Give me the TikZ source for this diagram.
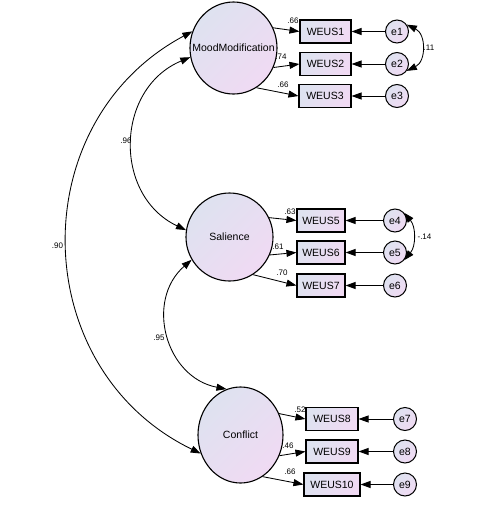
\documentclass[tikz,border=0pt]{standalone}
\usepackage{fontspec}
\setmainfont{Liberation Sans}
\usetikzlibrary{arrows.meta,shapes.geometric}
\definecolor{fillA}{RGB}{222,226,240}
\definecolor{fillB}{RGB}{240,218,243}
\tikzset{
  latent/.style={ellipse, draw, line width=1.1pt, inner sep=0pt,
    top color=fillA, bottom color=fillB, shading angle=45,
    label={[font=\fontsize{10.5}{12}\selectfont, inner sep=0pt]center:#1}},
  obs/.style={rectangle, draw, line width=1.1pt, inner sep=0pt,
    minimum height=23pt, top color=fillA, bottom color=fillB, shading angle=60,
    font=\fontsize{10.5}{12}\selectfont},
  err/.style={circle, draw, line width=1pt, inner sep=0pt, minimum size=23pt,
    top color=fillA, bottom color=fillB, shading angle=45,
    font=\fontsize{10.5}{12}\selectfont},
  onearrow/.style={line width=0.85pt, -{Triangle[length=10pt,width=7pt]}},
  twoarrow/.style={line width=0.85pt, {Triangle[length=10pt,width=7pt]}-{Triangle[length=10pt,width=7pt]}},
  lab/.style={font=\fontsize{8}{9.6}\selectfont, inner sep=0pt}
}
\begin{document}
\begin{tikzpicture}[x=1pt,y=-1pt]
\useasboundingbox (0,0) rectangle (495,507);
\fill[white] (0,0) rectangle (495,507);

% latent variables
\node[latent=MoodModification, minimum width=87pt, minimum height=92pt] (MM) at (233.5,48) {};
\node[latent=Salience, minimum width=87pt, minimum height=88pt] (SA) at (229.5,237) {};
\node[latent=Conflict, minimum width=85pt, minimum height=96pt] (CO) at (240.5,435) {};

% observed variables
\node[obs, minimum width=51pt] (W1) at (325.5,31.5) {WEUS1};
\node[obs, minimum width=51pt] (W2) at (325.5,64) {WEUS2};
\node[obs, minimum width=52pt] (W3) at (325,96) {WEUS3};
\node[obs, minimum width=48pt] (W5) at (321,220.5) {WEUS5};
\node[obs, minimum width=48pt] (W6) at (321,252.5) {WEUS6};
\node[obs, minimum width=48pt] (W7) at (321,285.5) {WEUS7};
\node[obs, minimum width=52pt] (W8) at (332,419) {WEUS8};
\node[obs, minimum width=52pt] (W9) at (332,451.5) {WEUS9};
\node[obs, minimum width=56pt] (W10) at (332,484.5) {WEUS10};

% errors
\node[err] (e1) at (397,31.5) {e1};
\node[err] (e2) at (397,64) {e2};
\node[err] (e3) at (397,96) {e3};
\node[err] (e4) at (395,220.5) {e4};
\node[err] (e5) at (395,252.5) {e5};
\node[err] (e6) at (395,285.5) {e6};
\node[err] (e7) at (405,419) {e7};
\node[err] (e8) at (405,451.5) {e8};
\node[err] (e9) at (405,484.5) {e9};

% loadings
\draw[onearrow] (MM.27) -- (W1.west);
\draw[onearrow] (MM.-26) -- (W2.west);
\draw[onearrow] (MM.-60) -- (W3.west);
\draw[onearrow] (SA.26) -- (W5.west);
\draw[onearrow] (SA.-24) -- (W6.west);
\draw[onearrow] (SA.-58) -- (W7.west);
\draw[onearrow] (CO.29) -- (W8.west);
\draw[onearrow] (CO.-28) -- (W9.west);
\draw[onearrow] (CO.-62) -- (W10.west);

% error paths
\draw[onearrow] (e1) -- (W1);
\draw[onearrow] (e2) -- (W2);
\draw[onearrow] (e3) -- (W3);
\draw[onearrow] (e4) -- (W5);
\draw[onearrow] (e5) -- (W6);
\draw[onearrow] (e6) -- (W7);
\draw[onearrow] (e7) -- (W8);
\draw[onearrow] (e8) -- (W9);
\draw[onearrow] (e9) -- (W10);

% correlations between latents
\draw[twoarrow] (MM.158) to[bend right=63, looseness=1.17] (CO.205);
\draw[twoarrow] (MM.192) to[bend right=66, looseness=1.2] (SA.171);
\draw[twoarrow] (SA.211) to[bend right=64, looseness=1.19] (CO.107);

% error covariances
\draw[twoarrow] (e1.35) to[bend left=64, looseness=1.2] (e2.-35);
\draw[twoarrow] (e4.40) to[bend left=40] (e5.-40);

% labels
\node[lab] (l1) at (293,21) {.66};
\node[lab] (l2) at (281,57) {.74};
\node[lab] (l3) at (283,85) {.66};
\node[lab] (l5) at (290,212) {.63};
\node[lab] (l6) at (278,247) {.61};
\node[lab] (l7) at (282,273) {.70};
\node[lab] (l8) at (300,410) {.52};
\node[lab] (l9) at (288,446) {.46};
\node[lab] (l10) at (290,472) {.66};
\node[lab] (c1) at (126,141) {.96};
\node[lab] (c2) at (57.5,246) {.90};
\node[lab] (c3) at (159,338) {.95};
\node[lab] (c4) at (429,48) {.11};
\node[lab] (c5) at (424.5,237) {-.14};
\end{tikzpicture}
\end{document}
